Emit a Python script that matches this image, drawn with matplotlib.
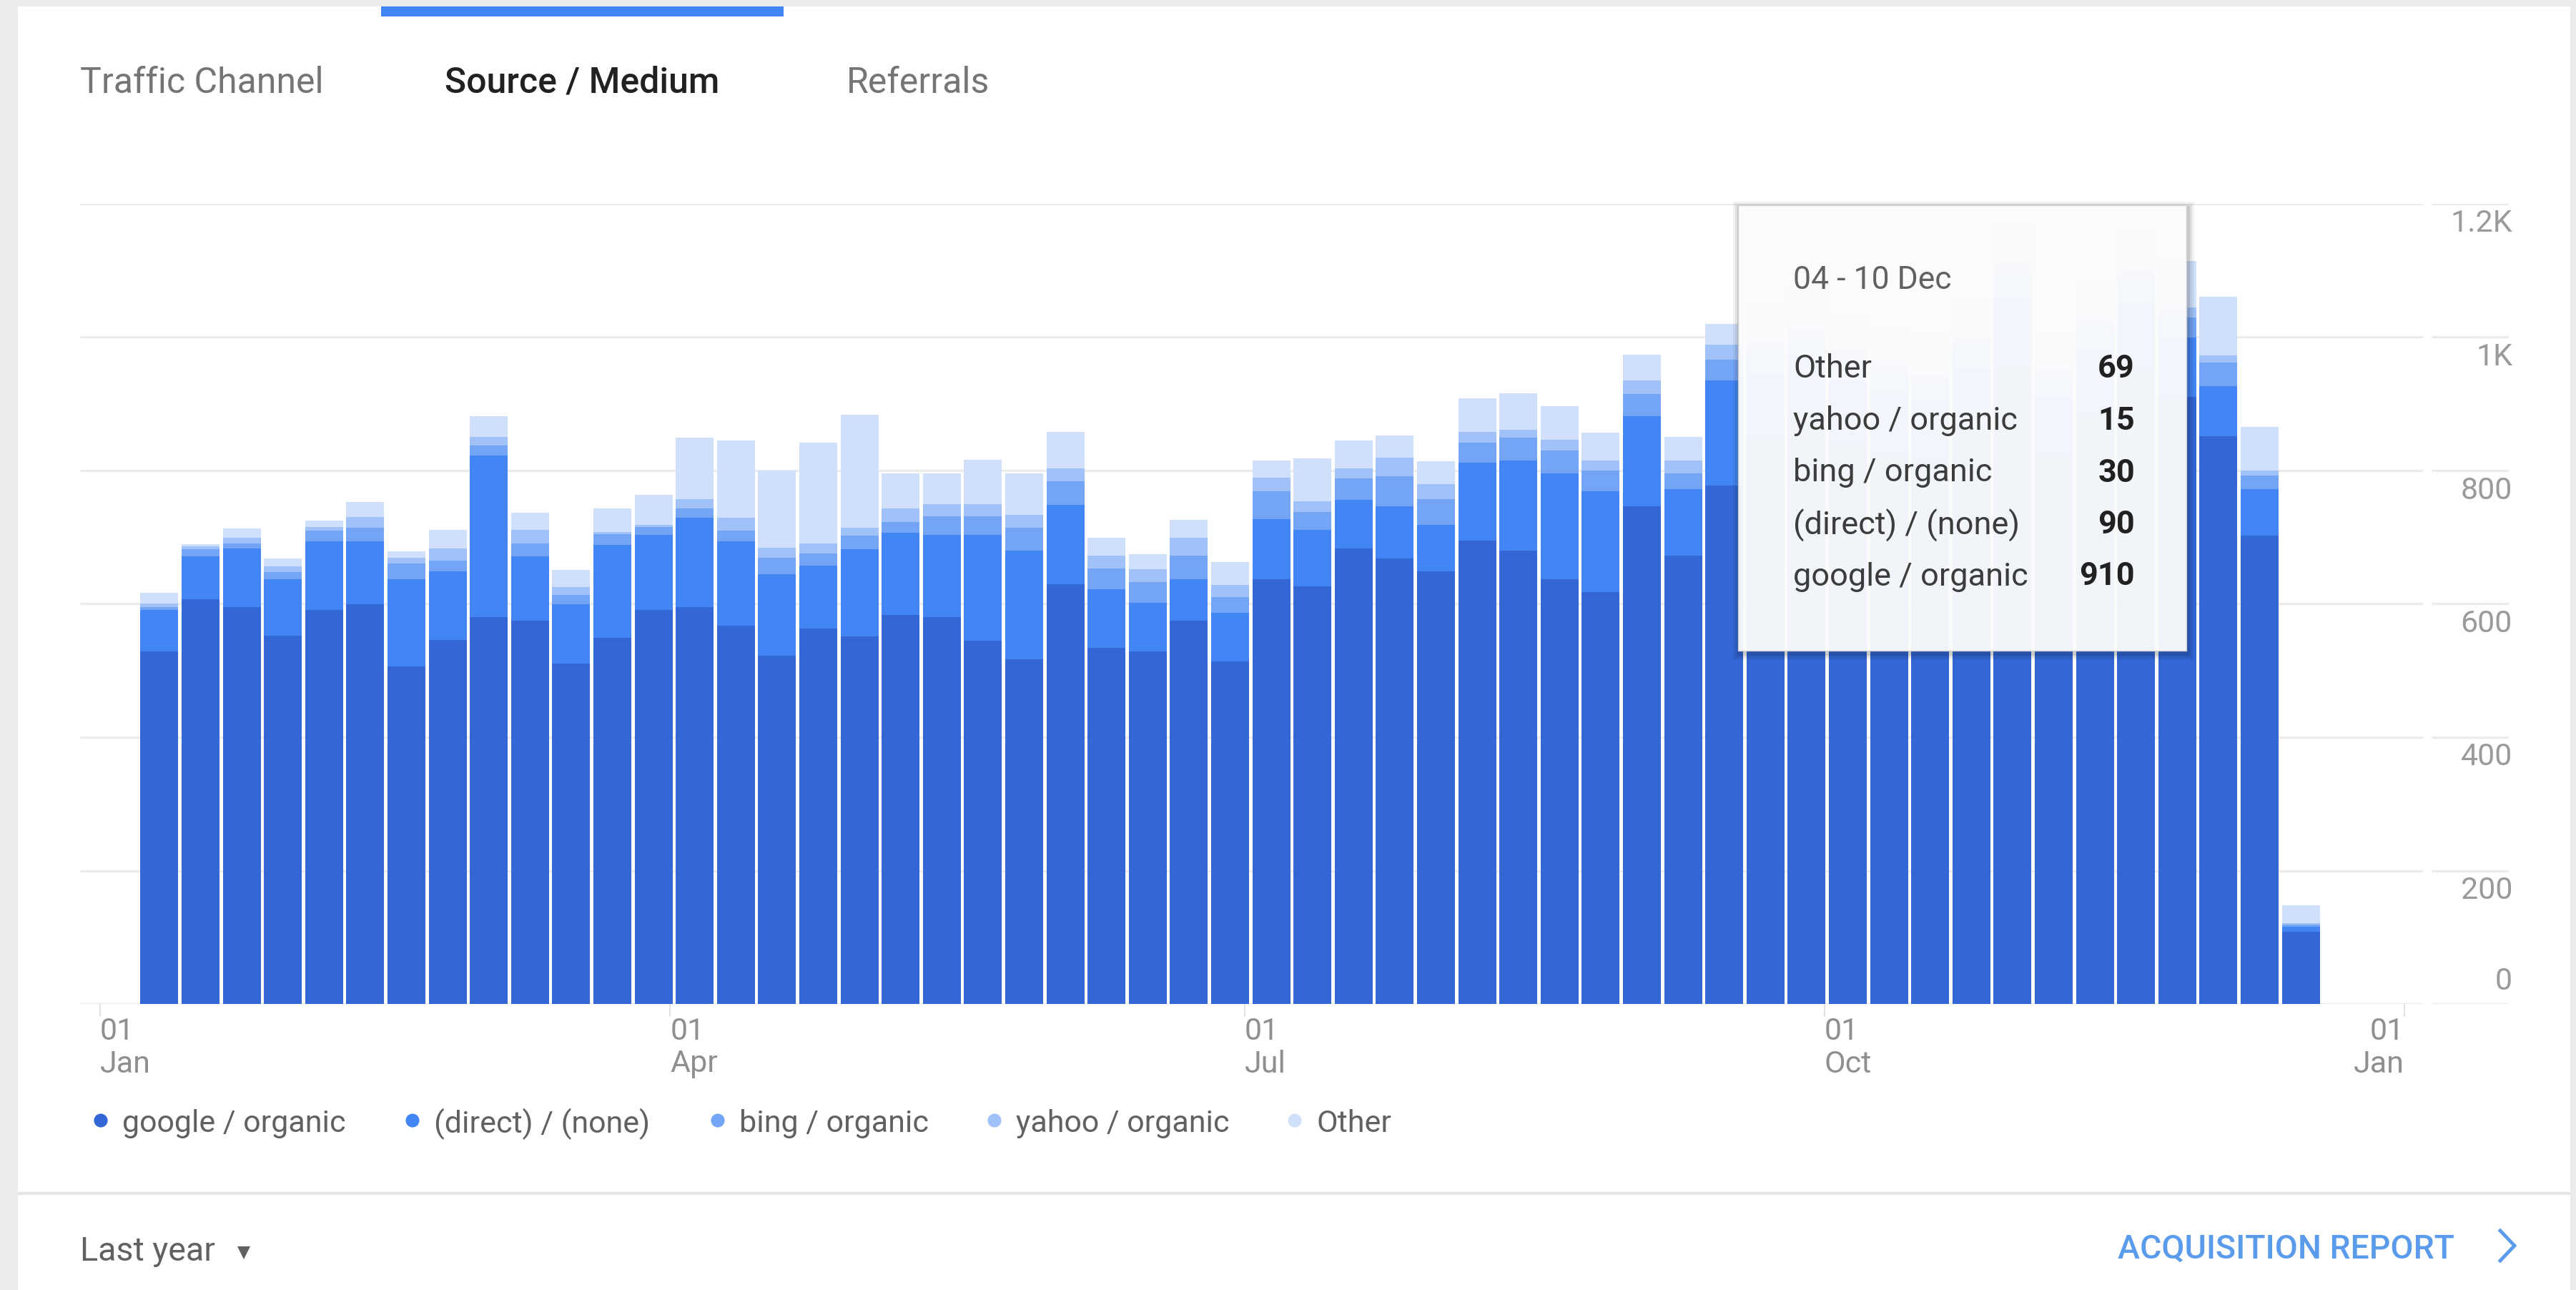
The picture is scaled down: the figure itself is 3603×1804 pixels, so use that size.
import matplotlib
matplotlib.use("Agg")
import matplotlib.pyplot as plt
import matplotlib.transforms as mtransforms
from matplotlib.patches import Rectangle
import numpy as np

plt.rcParams['font.family'] = ['Roboto', 'DejaVu Sans']

# weekly sessions by source / medium
google = [529, 607, 595, 552, 591, 599, 506, 546, 580, 575,
          510, 549, 591, 595, 567, 522, 563, 551, 583, 580,
          545, 517, 629, 534, 529, 575, 514, 637, 626, 683,
          668, 649, 695, 680, 637, 618, 746, 672, 777, 850,
          875, 840, 825, 815, 860, 955, 820, 885, 950, 910,
          851, 702, 108]
direct = [62, 64, 88, 85, 103, 95, 131, 103, 243, 96,
          89, 140, 112, 134, 127, 123, 94, 131, 124, 123,
          158, 163, 120, 88, 73, 62, 73, 90, 85, 73,
          78, 70, 117, 135, 159, 151, 135, 100, 158, 95,
          92, 94, 90, 88, 93, 105, 88, 96, 100, 90,
          76, 70, 8]
bing = [4, 11, 8, 11, 16, 20, 24, 16, 15, 20,
        14, 16, 12, 14, 16, 24, 19, 20, 16, 28,
        28, 34, 35, 31, 31, 35, 23, 42, 27, 32,
        45, 38, 30, 34, 34, 31, 34, 24, 31, 32,
        30, 31, 29, 28, 31, 34, 30, 31, 33, 30,
        35, 20, 3]
yahoo = [5, 4, 8, 8, 5, 16, 8, 18, 12, 20,
         12, 3, 3, 14, 19, 15, 15, 12, 20, 19,
         19, 20, 19, 19, 19, 27, 18, 20, 16, 15,
         28, 23, 16, 12, 16, 15, 20, 19, 23, 15,
         14, 15, 14, 13, 14, 16, 14, 15, 16, 15,
         11, 8, 2]
other = [17, 4, 14, 12, 10, 23, 10, 28, 31, 26,
         26, 35, 46, 92, 116, 116, 151, 170, 53, 46,
         66, 62, 55, 27, 23, 27, 35, 26, 64, 42,
         34, 34, 50, 55, 50, 42, 39, 35, 31, 53,
         58, 50, 53, 53, 55, 61, 51, 58, 62, 69,
         88, 65, 27]

series_names = ['google / organic', '(direct) / (none)', 'bing / organic',
                'yahoo / organic', 'Other']
series_colors = ['#3367d6', '#4285f4', '#74a4f5', '#a0c2f9', '#d0e0fb']
month_days = ['01', '01', '01', '01', '01']
month_names = ['Jan', 'Apr', 'Jul', 'Oct', 'Jan']
month_pos = [-1.44, 12.40, 26.35, 40.43, 54.51]
y_ticks = [0, 200, 400, 600, 800, 1000, 1200]
y_tick_labels = ['0', '200', '400', '600', '800', '1K', '1.2K']
tabs = ['Traffic Channel', 'Source / Medium', 'Referrals']
tooltip_week = '04 - 10 Dec'
tooltip_index = 49

W, H = 3603, 1804
fig = plt.figure(figsize=(W / 100, H / 100), dpi=100)
fig.patch.set_facecolor('#ebebeb')

# background card layer (pixel coordinates)
bg = fig.add_axes([0, 0, 1, 1], zorder=0)
bg.set_xlim(0, W)
bg.set_ylim(H, 0)
bg.axis('off')
bg.add_patch(Rectangle((25, 9), 3570, 1850, facecolor='white', edgecolor='none'))
bg.plot([25, 3595], [1669, 1669], color='#e6e6e6', lw=3, solid_capstyle='butt')
bg.add_patch(Rectangle((533, 9), 563, 14, facecolor='#4285f4', edgecolor='none'))

tab_x = [112, 622, 1184]
for t, x in zip(tabs, tab_x):
    active = t == 'Source / Medium'
    bg.text(x, 116, t, fontsize=36, color='#212121' if active else '#757575',
            fontweight='medium' if active else 'normal', va='center', ha='left')

# legend
leg_dot_x = [141, 577, 1004, 1391, 1811]
for name, col, x in zip(series_names, series_colors, leg_dot_x):
    bg.scatter([x], [1567], s=190, color=col, edgecolors='none')
    bg.text(x + 30, 1567, name, fontsize=31, color='#616161',
            va='center_baseline', ha='left')

# footer
bg.text(112, 1745, 'Last year', fontsize=33.5, color='#616161',
        va='center_baseline', ha='left')
bg.scatter([341], [1752], marker='v', s=170, color='#616161', edgecolors='none')
bg.text(3433, 1742, 'ACQUISITION REPORT', fontsize=33.5, color='#5b9bec',
        fontweight='medium', va='center_baseline', ha='right')
bg.plot([3497, 3517, 3497], [1721, 1742, 1763], color='#5b9bec', lw=3.5,
        solid_joinstyle='miter')

# chart
ax = fig.add_axes([112 / W, (H - 1404) / H, (3509 - 112) / W, (1404 - 285) / H],
                  zorder=1)
ax.set_facecolor('none')
xmin, xmax = -1.927, 57.05
ax.set_xlim(xmin, xmax)
ax.set_ylim(0, 1200)
for s in ax.spines.values():
    s.set_visible(False)

for yv in y_ticks:
    ax.hlines(yv, xmin, 54.97, color='#ececec', lw=2.4, zorder=0)
    ax.hlines(yv, 55.17, xmax, color='#ececec', lw=2.4, zorder=0)

x = np.arange(len(google))
bottom = np.zeros(len(google))
for vals, col in zip([google, direct, bing, yahoo, other], series_colors):
    ax.bar(x, vals, width=0.92, bottom=bottom, color=col, edgecolor='none',
           zorder=2)
    bottom += np.array(vals)

ax.set_yticks([])
ax.set_xticks(month_pos)
ax.set_xticklabels([])
ax.tick_params(axis='x', length=13, width=1.2, color='#dddddd', direction='out')

tx = mtransforms.blended_transform_factory(ax.transData, fig.transFigure)
for i, (d, m, p) in enumerate(zip(month_days, month_names, month_pos)):
    ha = 'right' if i == len(month_pos) - 1 else 'left'
    ax.text(p, 1 - 1443 / H, d, transform=tx, fontsize=31, color='#8f8f8f',
            ha=ha, va='center')
    ax.text(p, 1 - 1488 / H, m, transform=tx, fontsize=31, color='#8f8f8f',
            ha=ha, va='center')

ty = mtransforms.blended_transform_factory(fig.transFigure, ax.transData)
for yv, lab in zip(y_ticks, y_tick_labels):
    off = 32 if yv == 0 else -28
    tr = mtransforms.offset_copy(ty, fig=fig, y=off, units='dots')
    ax.text(3514 / W, yv, lab, transform=tr, fontsize=31, color='#9a9a9a',
            ha='right', va='center')

# tooltip layer
fg = fig.add_axes([0, 0, 1, 1], zorder=2)
fg.set_xlim(0, W)
fg.set_ylim(H, 0)
fg.axis('off')
for k, a in enumerate([0.05, 0.07, 0.10]):
    g = 9 - 3 * k
    fg.add_patch(Rectangle((2431 - g + 2, 287 - g + 4), 627 + 2 * g, 623 + 2 * g,
                           facecolor='black', alpha=a, edgecolor='none'))
fg.add_patch(Rectangle((2431, 287), 627, 623, facecolor='white', alpha=0.94,
                       edgecolor='#d0d0d0', lw=1))
fg.text(2508, 387, tooltip_week, fontsize=32, color='#616161',
        va='center_baseline', ha='left')
tip_vals = [other[tooltip_index], yahoo[tooltip_index], bing[tooltip_index],
            direct[tooltip_index], google[tooltip_index]]
tip_names = series_names[::-1]
for j, (nm, v) in enumerate(zip(tip_names, tip_vals)):
    yy = 512 + j * 72.5
    fg.text(2508, yy, nm, fontsize=32.5, color='#3c3c3c', va='center_baseline',
            ha='left')
    fg.text(2986, yy, str(v), fontsize=32.5, color='#212121', fontweight='bold',
            va='center_baseline', ha='right')

fig.savefig('out.png', dpi=100, facecolor=fig.get_facecolor())
plt.close(fig)
